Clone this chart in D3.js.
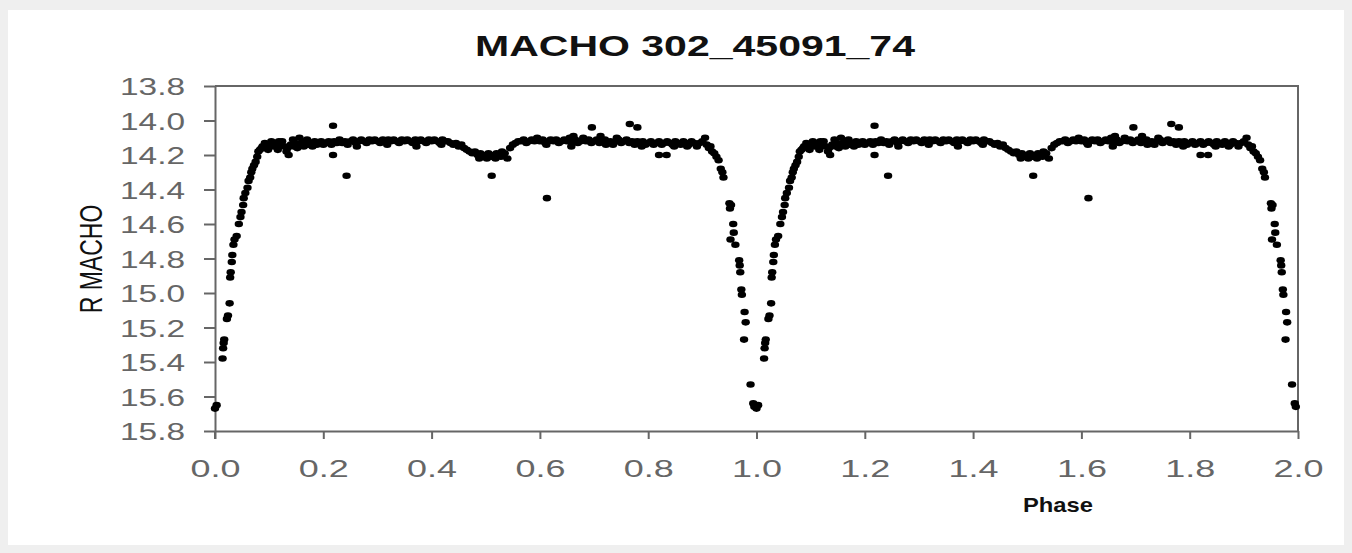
<!DOCTYPE html>
<html>
<head>
<meta charset="utf-8">
<script src="https://cdn.jsdelivr.net/npm/d3@7"></script>
<style>
  body { margin: 0; background: #efefef; }
  text { font-family: "Liberation Sans", Arial, sans-serif; }
</style>
</head>
<body>
<div id="scatter"></div>
<script>
// tick labels
var xTicks = [0.0, 0.2, 0.4, 0.6, 0.8, 1.0, 1.2, 1.4, 1.6, 1.8, 2.0];
var yTicks = [13.8, 14.0, 14.2, 14.4, 14.6, 14.8, 15.0, 15.2, 15.4, 15.6, 15.8];

// light curve, one cycle: [phase, R mag]
var egressPts = [
  [0.000, 15.67], [0.003, 15.65], [0.014, 15.38], [0.015, 15.32], [0.016, 15.29],
  [0.017, 15.27], [0.022, 15.15], [0.024, 15.13], [0.027, 15.06], [0.028, 14.91],
  [0.029, 14.88], [0.031, 14.82], [0.032, 14.78], [0.034, 14.72], [0.036, 14.69],
  [0.040, 14.67], [0.044, 14.60], [0.047, 14.56], [0.049, 14.53], [0.052, 14.49],
  [0.053, 14.45], [0.056, 14.42], [0.060, 14.39], [0.062, 14.35], [0.065, 14.33],
  [0.067, 14.30], [0.069, 14.28], [0.072, 14.26], [0.075, 14.24], [0.078, 14.21],
  [0.080, 14.18], [0.083, 14.17], [0.086, 14.16]
];

var plateauPts1 = [
  [0.088, 14.15], [0.092, 14.13], [0.096, 14.16], [0.098, 14.17], [0.100, 14.14],
  [0.104, 14.12], [0.108, 14.15], [0.112, 14.13], [0.116, 14.17], [0.118, 14.12],
  [0.120, 14.14], [0.124, 14.12], [0.128, 14.15], [0.132, 14.18], [0.134, 14.16],
  [0.136, 14.20], [0.140, 14.14], [0.144, 14.11], [0.146, 14.15], [0.148, 14.13],
  [0.152, 14.16], [0.156, 14.10], [0.158, 14.14], [0.160, 14.13], [0.164, 14.15],
  [0.168, 14.12], [0.170, 14.11], [0.172, 14.14], [0.176, 14.13], [0.180, 14.15],
  [0.184, 14.12], [0.188, 14.14], [0.192, 14.13], [0.196, 14.12], [0.200, 14.14],
  [0.205, 14.13], [0.210, 14.12], [0.215, 14.14], [0.220, 14.12], [0.225, 14.13],
  [0.230, 14.11], [0.235, 14.13], [0.240, 14.12], [0.245, 14.14], [0.250, 14.12],
  [0.255, 14.11], [0.260, 14.13], [0.262, 14.15], [0.265, 14.12], [0.270, 14.11],
  [0.275, 14.12], [0.280, 14.13], [0.285, 14.11], [0.290, 14.12], [0.295, 14.11],
  [0.300, 14.12], [0.305, 14.13], [0.310, 14.11], [0.315, 14.12], [0.318, 14.14],
  [0.320, 14.11], [0.325, 14.12], [0.330, 14.11], [0.335, 14.12], [0.340, 14.13],
  [0.345, 14.11], [0.350, 14.12], [0.355, 14.11], [0.360, 14.12], [0.365, 14.13],
  [0.370, 14.11], [0.372, 14.15], [0.375, 14.12], [0.380, 14.11], [0.385, 14.12],
  [0.390, 14.13], [0.395, 14.11], [0.400, 14.12], [0.405, 14.11], [0.410, 14.12],
  [0.415, 14.13], [0.418, 14.14], [0.420, 14.11], [0.425, 14.12], [0.430, 14.12],
  [0.435, 14.13], [0.440, 14.14], [0.445, 14.13]
];

var secondaryPts = [
  [0.450, 14.15], [0.455, 14.14], [0.460, 14.16], [0.465, 14.17], [0.470, 14.18],
  [0.475, 14.19], [0.480, 14.18], [0.485, 14.20], [0.488, 14.22], [0.490, 14.19],
  [0.495, 14.21], [0.500, 14.20], [0.502, 14.22], [0.505, 14.19], [0.510, 14.21],
  [0.515, 14.20], [0.518, 14.22], [0.520, 14.19], [0.525, 14.20], [0.528, 14.21],
  [0.530, 14.18], [0.535, 14.19], [0.540, 14.22], [0.545, 14.16], [0.550, 14.14],
  [0.555, 14.13], [0.560, 14.12]
];

var plateauPts2 = [
  [0.565, 14.12], [0.570, 14.11], [0.575, 14.13], [0.580, 14.12], [0.585, 14.11],
  [0.590, 14.12], [0.595, 14.10], [0.600, 14.12], [0.605, 14.11], [0.610, 14.13],
  [0.612, 14.14], [0.615, 14.12], [0.620, 14.11], [0.625, 14.12], [0.630, 14.11],
  [0.635, 14.13], [0.640, 14.12], [0.645, 14.11], [0.650, 14.12], [0.655, 14.10],
  [0.658, 14.15], [0.660, 14.12], [0.662, 14.09], [0.665, 14.11], [0.670, 14.13],
  [0.675, 14.12], [0.680, 14.10], [0.685, 14.12], [0.690, 14.11], [0.695, 14.13],
  [0.700, 14.12], [0.705, 14.11], [0.710, 14.13], [0.712, 14.09], [0.715, 14.12],
  [0.720, 14.11], [0.722, 14.14], [0.725, 14.13], [0.730, 14.12], [0.735, 14.14],
  [0.740, 14.12], [0.742, 14.10], [0.745, 14.11], [0.750, 14.13], [0.755, 14.12],
  [0.760, 14.11], [0.765, 14.13], [0.770, 14.12], [0.775, 14.14], [0.780, 14.12],
  [0.785, 14.13], [0.788, 14.15], [0.790, 14.12], [0.795, 14.14], [0.800, 14.13],
  [0.805, 14.12], [0.810, 14.14], [0.815, 14.13], [0.820, 14.12], [0.825, 14.14],
  [0.830, 14.13], [0.835, 14.12], [0.840, 14.13], [0.845, 14.14], [0.848, 14.15],
  [0.850, 14.12], [0.855, 14.13], [0.860, 14.14], [0.865, 14.12], [0.870, 14.13],
  [0.872, 14.15], [0.875, 14.14], [0.880, 14.12], [0.885, 14.13], [0.890, 14.15],
  [0.895, 14.13], [0.900, 14.12], [0.905, 14.10]
];

var ingressPts = [
  [0.908, 14.14], [0.912, 14.16], [0.915, 14.15], [0.918, 14.18], [0.922, 14.19],
  [0.926, 14.21], [0.930, 14.23], [0.934, 14.28], [0.937, 14.30], [0.939, 14.33],
  [0.950, 14.48], [0.951, 14.51], [0.953, 14.49], [0.957, 14.60], [0.958, 14.65],
  [0.952, 14.69], [0.961, 14.72], [0.968, 14.81], [0.969, 14.84], [0.970, 14.88],
  [0.972, 14.98], [0.973, 15.01], [0.978, 15.11], [0.980, 15.17], [0.977, 15.27],
  [0.989, 15.53], [0.994, 15.64], [0.996, 15.66]
];

var outlierPts = [
  [0.218, 14.03], [0.218, 14.20], [0.243, 14.32], [0.511, 14.32], [0.613, 14.45],
  [0.696, 14.04], [0.766, 14.02], [0.780, 14.04], [0.820, 14.20], [0.834, 14.20]
];

var svgWidth = 1352;
var svgHeight = 553;

var margin = { top: 86, right: 54, bottom: 122, left: 215 };
var width = svgWidth - margin.left - margin.right;
var height = svgHeight - margin.top - margin.bottom;

var svg = d3.select("#scatter")
  .append("svg")
  .attr("width", svgWidth)
  .attr("height", svgHeight)
  .style("display", "block");

// grey page with white card
svg.append("rect")
  .attr("width", svgWidth)
  .attr("height", svgHeight)
  .attr("fill", "#efefef");

svg.append("rect")
  .attr("x", 8)
  .attr("y", 10)
  .attr("width", 1336)
  .attr("height", 535)
  .attr("fill", "#ffffff");

var chartGroup = svg.append("g")
  .attr("transform", `translate(${margin.left}, ${margin.top})`);

// scales
var xScale = d3.scaleLinear()
  .domain([0, 2])
  .range([0, width]);

var yScale = d3.scaleLinear()
  .domain([13.8, 15.8])
  .range([0, height]);

// frame (top and right)
chartGroup.append("path")
  .attr("d", `M0,0H${width}V${height}`)
  .attr("fill", "none")
  .attr("stroke", "#666")
  .attr("stroke-width", 2);

// axes
var leftAxis = d3.axisLeft(yScale)
  .tickValues(yTicks)
  .tickFormat(d3.format(".1f"))
  .tickSize(11)
  .tickSizeOuter(0)
  .tickPadding(19);

var bottomAxis = d3.axisBottom(xScale)
  .tickValues(xTicks)
  .tickFormat(d3.format(".1f"))
  .tickSize(8)
  .tickSizeOuter(0);

var yAxisG = chartGroup.append("g").call(leftAxis);
var xAxisG = chartGroup.append("g")
  .attr("transform", `translate(0, ${height})`)
  .call(bottomAxis);

[yAxisG, xAxisG].forEach(g => {
  g.select(".domain").attr("stroke", "#666").attr("stroke-width", 2);
  g.selectAll(".tick line").attr("stroke", "#666").attr("stroke-width", 2);
  g.selectAll(".tick text")
    .attr("fill", "#666")
    .attr("font-size", 24)
    .attr("font-family", "'Liberation Sans', Arial, sans-serif")
    .attr("lengthAdjust", "spacingAndGlyphs");
});

yAxisG.selectAll(".tick text")
  .attr("dy", "0.36em")
  .attr("textLength", 65);

xAxisG.selectAll(".tick text")
  .attr("dy", null)
  .attr("y", 46)
  .attr("textLength", 50);

// x-axis line at 0.0 runs past the bottom like the tick at 2.0
chartGroup.append("line")
  .attr("x1", 0).attr("x2", 0)
  .attr("y1", height).attr("y2", height + 8)
  .attr("stroke", "#666")
  .attr("stroke-width", 2);

// titles
svg.append("text")
  .attr("x", 695)
  .attr("y", 56)
  .attr("text-anchor", "middle")
  .attr("font-size", 29)
  .attr("font-weight", "bold")
  .attr("fill", "#111")
  .attr("textLength", 440)
  .attr("lengthAdjust", "spacingAndGlyphs")
  .text("MACHO 302_45091_74");

svg.append("text")
  .attr("x", 1058)
  .attr("y", 512)
  .attr("text-anchor", "middle")
  .attr("font-size", 21)
  .attr("font-weight", "bold")
  .attr("fill", "#111")
  .attr("textLength", 70)
  .attr("lengthAdjust", "spacingAndGlyphs")
  .text("Phase");

svg.append("text")
  .attr("text-anchor", "middle")
  .attr("transform", "translate(102, 259) scale(1.4, 1) rotate(-90)")
  .attr("font-size", 23)
  .attr("fill", "#111")
  .text("R MACHO");

// data points, phase shown twice
var cycle = [].concat(egressPts, plateauPts1, secondaryPts, plateauPts2, ingressPts, outlierPts);
var data = cycle.map(d => ({ phase: d[0], mag: d[1] }))
  .concat(cycle.map(d => ({ phase: d[0] + 1, mag: d[1] })));

chartGroup.append("g")
  .selectAll("ellipse")
  .data(data)
  .enter()
  .append("ellipse")
  .attr("cx", d => xScale(d.phase))
  .attr("cy", d => yScale(d.mag))
  .attr("rx", 4.2)
  .attr("ry", 3.3)
  .attr("fill", "#000");
</script>
</body>
</html>
